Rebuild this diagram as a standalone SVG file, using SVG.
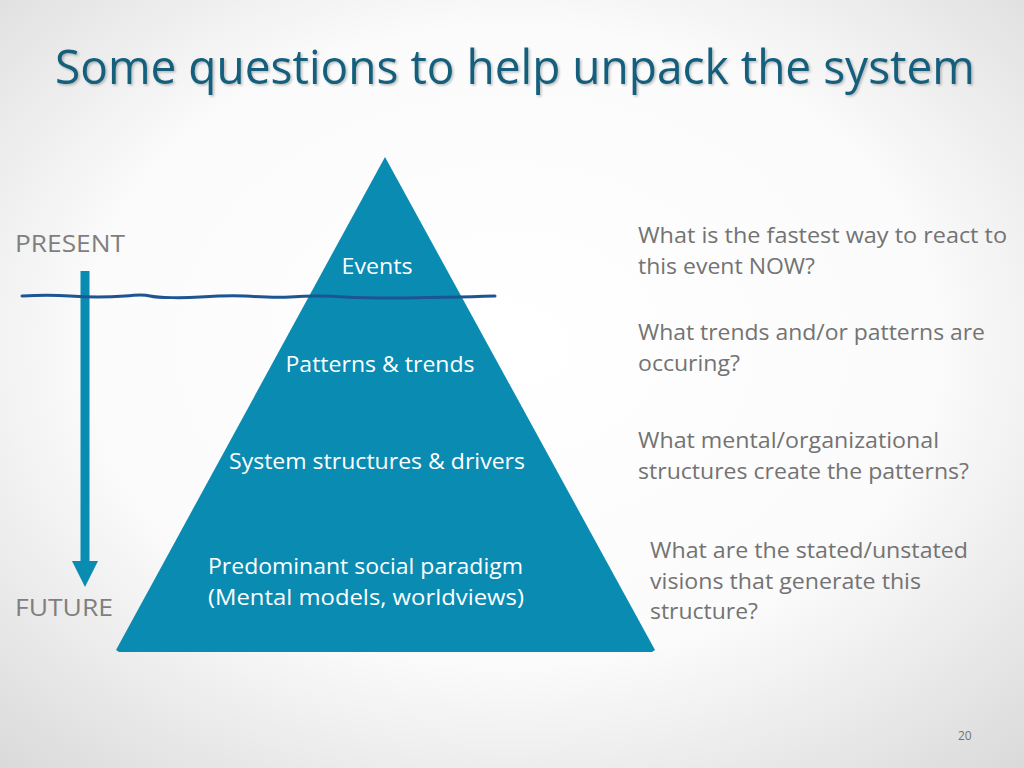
<svg xmlns="http://www.w3.org/2000/svg" width="1024" height="768" viewBox="0 0 1024 768">
<defs>
<radialGradient id="bg" cx="50%" cy="45%" r="75%">
<stop offset="0" stop-color="#ffffff"/>
<stop offset="0.55" stop-color="#fbfbfb"/>
<stop offset="1" stop-color="#d9d9d9"/>
</radialGradient>
<filter id="sh" x="-5%" y="-20%" width="110%" height="140%">
<feDropShadow dx="1.5" dy="1.5" stdDeviation="1.2" flood-color="#000" flood-opacity="0.25"/>
</filter>
</defs>
<style>
text{font-family:"Open Sans","Noto Sans","Liberation Sans",sans-serif}
.title{font-size:47px;fill:#135f7c}
.side{font-size:24px;fill:#7f7f7f}
.lvl{font-size:22px;fill:#ffffff;text-anchor:middle}
.q{font-size:22px;fill:#737373}
.num{font-size:12px;fill:#737373}
</style>
<rect width="1024" height="768" fill="url(#bg)"/>
<text class="title" x="55" y="84" textLength="920" lengthAdjust="spacingAndGlyphs" filter="url(#sh)">Some questions to help unpack the system</text>

<g id="pyramid">
<polygon points="385,157 655,650 652,652 119,652 116,650" fill="#0a8bb2"/>
</g>

<g id="labels">
<text class="lvl" x="377" y="274" textLength="71" lengthAdjust="spacingAndGlyphs">Events</text>
<text class="lvl" x="380" y="372" textLength="189" lengthAdjust="spacingAndGlyphs">Patterns &amp; trends</text>
<text class="lvl" x="377" y="469" textLength="296" lengthAdjust="spacingAndGlyphs">System structures &amp; drivers</text>
<text class="lvl" x="365.5" y="574" textLength="315" lengthAdjust="spacingAndGlyphs">Predominant social paradigm</text>
<text class="lvl" x="366" y="605" textLength="316" lengthAdjust="spacingAndGlyphs">(Mental models, worldviews)</text>
</g>

<g id="present"><text class="side" x="15" y="252" textLength="110" lengthAdjust="spacingAndGlyphs">PRESENT</text></g>
<g id="future"><text class="side" x="15" y="616" textLength="98" lengthAdjust="spacingAndGlyphs">FUTURE</text></g>

<g id="connectors">
<rect x="80.5" y="271" width="9" height="292" fill="#0a8bb2"/>
<polygon points="72,561 98,561 85,587" fill="#0a8bb2"/>
<path d="M22,296 C40,295 55,295 70,296 S110,297 125,296 S142,294 150,296 S185,298 200,297 S230,295 245,296 S275,298 290,297 S330,296 345,297 S385,298 400,298 S440,297 460,297 S485,296 495,296" fill="none" stroke="#1d5592" stroke-width="3" stroke-linecap="round"/>
</g>

<g id="questions">
<text class="q" x="638" y="243" textLength="369" lengthAdjust="spacingAndGlyphs">What is the fastest way to react to</text>
<text class="q" x="638" y="274" textLength="177" lengthAdjust="spacingAndGlyphs">this event NOW?</text>
<text class="q" x="638" y="340" textLength="347" lengthAdjust="spacingAndGlyphs">What trends and/or patterns are</text>
<text class="q" x="638" y="371" textLength="102" lengthAdjust="spacingAndGlyphs">occuring?</text>
<text class="q" x="638" y="448" textLength="301" lengthAdjust="spacingAndGlyphs">What mental/organizational</text>
<text class="q" x="638" y="479" textLength="331" lengthAdjust="spacingAndGlyphs">structures create the patterns?</text>
<text class="q" x="650" y="558" textLength="318" lengthAdjust="spacingAndGlyphs">What are the stated/unstated</text>
<text class="q" x="650" y="589" textLength="271" lengthAdjust="spacingAndGlyphs">visions that generate this</text>
<text class="q" x="650" y="619" textLength="108" lengthAdjust="spacingAndGlyphs">structure?</text>
</g>
<text class="num" x="958" y="740">20</text>
</svg>
